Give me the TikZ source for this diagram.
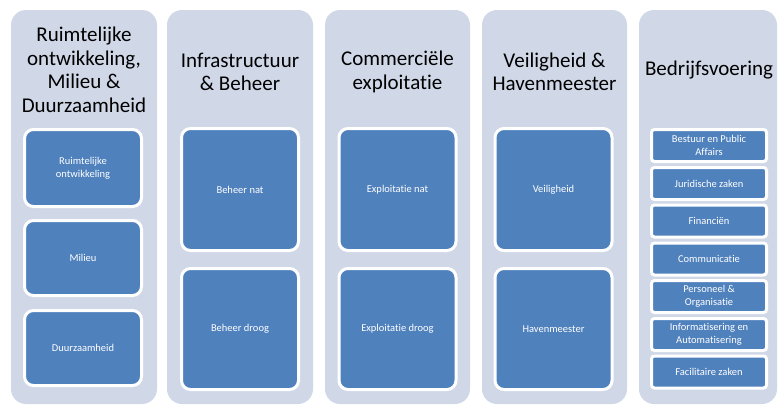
\documentclass[tikz,border=0pt]{standalone}
\usepackage{fontspec}
\setmainfont{Carlito}[Ligatures=NoCommon]
\begin{document}
\begin{tikzpicture}[x=1pt,y=-1pt,
  colbox/.style={fill=colfill, draw=none, rounded corners=15pt},
  header/.style={align=center, text=black, font=\fontsize{21}{23.5}\selectfont, inner sep=0pt},
  bigbox/.style={fill=boxblue, draw=white, line width=3pt, rounded corners=9pt,
     minimum width=117pt, text=white, align=center, inner sep=0pt,
     font=\fontsize{10.5}{13}\selectfont},
  smallbox/.style={fill=boxblue, draw=white, line width=3pt, rounded corners=3pt,
     minimum width=115pt, minimum height=32pt, text=white, align=center, inner sep=0pt,
     font=\fontsize{10.5}{13}\selectfont}]
\definecolor{colfill}{HTML}{D0D8E8}
\definecolor{boxblue}{HTML}{4F81BD}
\useasboundingbox (0,0) rectangle (778,405);
\fill[white] (0,0) rectangle (778,405);
% columns
\fill[colbox] (11,10) rectangle (157,404);
\fill[colbox] (167,10) rectangle (313,404);
\fill[colbox] (325,10) rectangle (470,404);
\fill[colbox] (482,10) rectangle (627,404);
\fill[colbox] (639,10) rectangle (777,404);
% headers
\node[header] (h1) at (84,70) {Ruimtelijke\\ontwikkeling,\\Milieu \&\\Duurzaamheid};
\node[header] (h2) at (240,72) {Infrastructuur\\\& Beheer};
\node[header] (h3) at (397.5,72) {Commerciële\\exploitatie};
\node[header] (h4) at (554.5,72) {Veiligheid \&\\Havenmeester};
\node[header] (h5) at (709,70) {Bedrijfsvoering};
% column 1
\node[bigbox, minimum height=77pt] (c1a) at (83,168) {Ruimtelijke\\ontwikkeling};
\node[bigbox, minimum height=75pt] (c1b) at (83,258) {Milieu};
\node[bigbox, minimum height=75pt] (c1c) at (83,348) {Duurzaamheid};
% column 2
\node[bigbox, minimum height=122pt] (c2a) at (240,189.5) {Beheer nat};
\node[bigbox, minimum height=121pt] (c2b) at (240,329) {Beheer droog};
% column 3
\node[bigbox, minimum height=122pt] (c3a) at (397.5,189.5) {Exploitatie nat};
\node[bigbox, minimum height=121pt] (c3b) at (397.5,329) {Exploitatie droog};
% column 4
\node[bigbox, minimum height=122pt] (c4a) at (553.5,189.5) {Veiligheid};
\node[bigbox, minimum height=121pt] (c4b) at (553.5,329) {Havenmeester};
% column 5
\node[smallbox] (c5a) at (709,145.5) {Bestuur en Public\\Affairs};
\node[smallbox] (c5b) at (709,183.5) {Juridische zaken};
\node[smallbox] (c5c) at (709,221) {Financiën};
\node[smallbox] (c5d) at (709,259) {Communicatie};
\node[smallbox] (c5e) at (709,296.5) {Personeel \&\\Organisatie};
\node[smallbox] (c5f) at (709,334.5) {Informatisering en\\Automatisering};
\node[smallbox] (c5g) at (709,372) {Facilitaire zaken};
\end{tikzpicture}
\end{document}
